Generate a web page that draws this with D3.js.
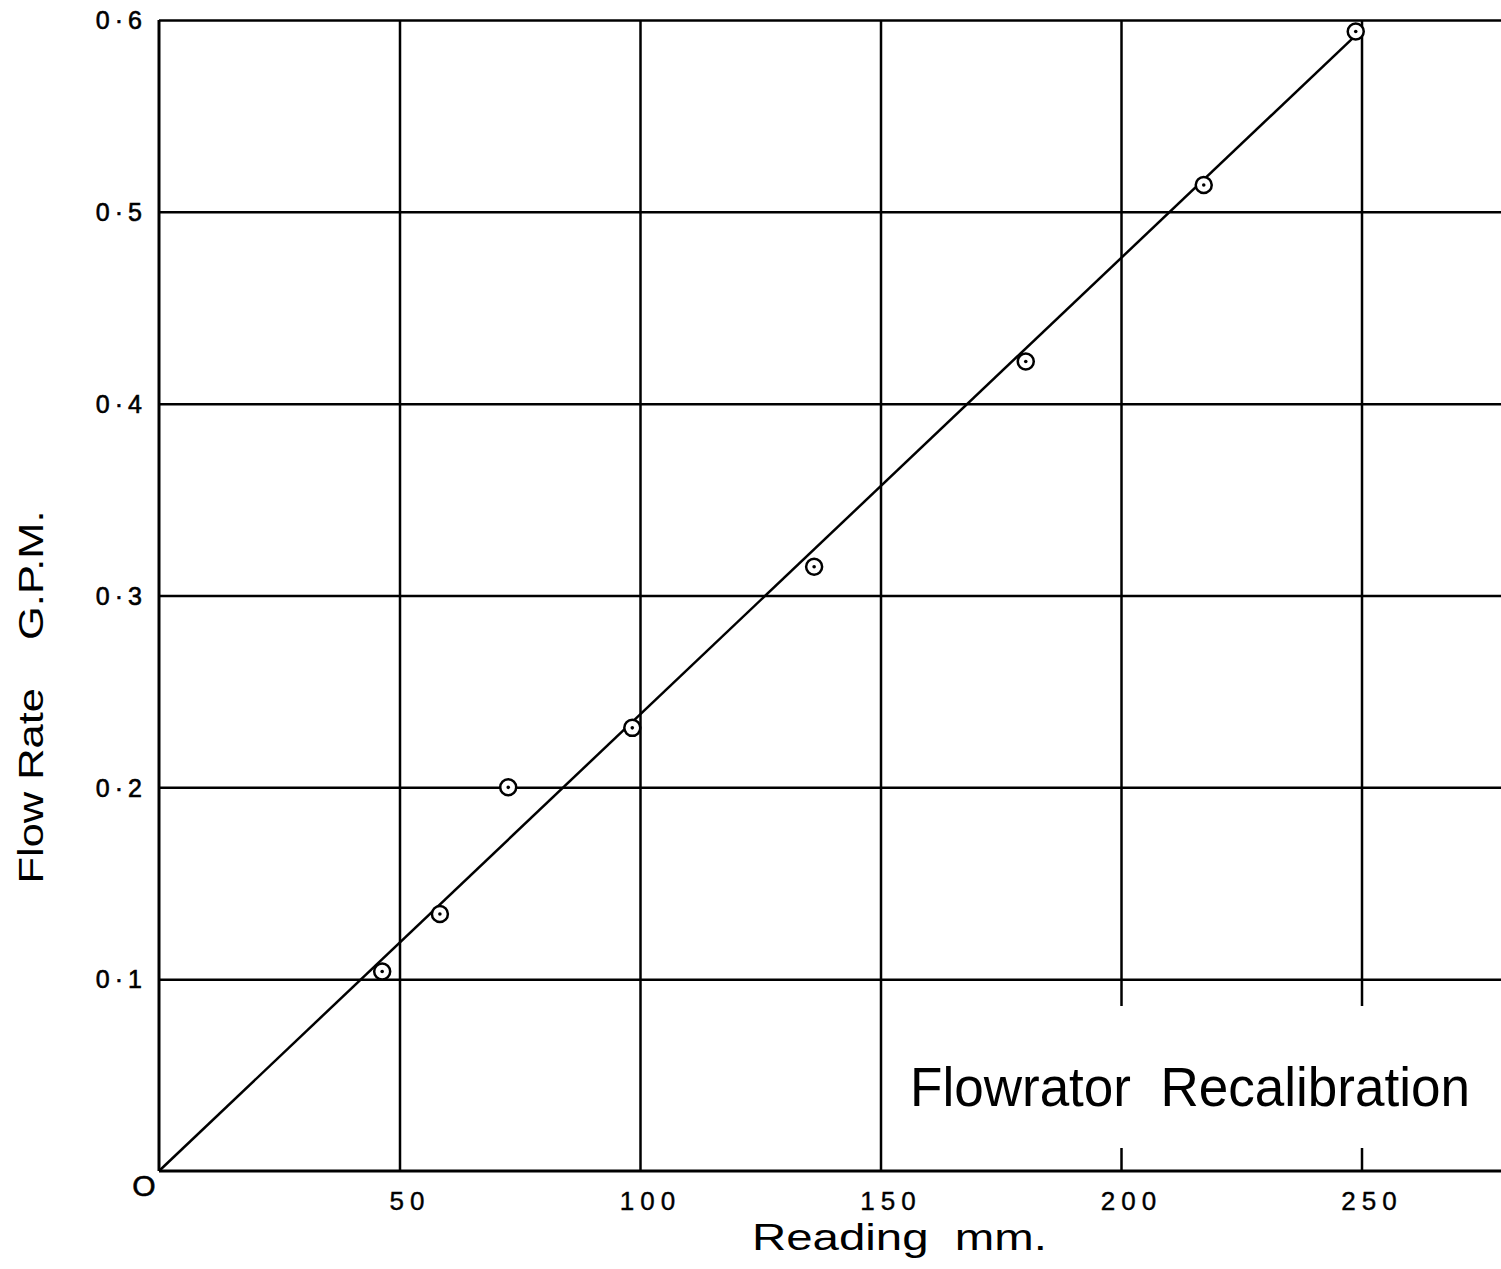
<!DOCTYPE html>
<html>
<head>
<meta charset="utf-8">
<script src="https://cdn.jsdelivr.net/npm/d3@7"></script>
<style>
  body { margin: 0; background: #fff; }
  text { font-family: "Liberation Sans", "DejaVu Sans", sans-serif; fill: #000; white-space: pre; }
</style>
</head>
<body>
<div id="chart"></div>
<script>
// readings (mm) and flow rates (G.P.M.)
var readings = [46.4, 58.4, 72.6, 98.4, 136.2, 180.2, 217.2, 248.8];
var flows    = [0.104, 0.134, 0.200, 0.231, 0.315, 0.422, 0.514, 0.594];

// hand drawn calibration line
var fitX = [0, 248.8];
var fitY = [0, 0.592];

var xTicks = [50, 100, 150, 200, 250];
var yTicks = [0.1, 0.2, 0.3, 0.4, 0.5, 0.6];

var W = 1501, H = 1269;
var plotLeft = 159, plotTop = 20, plotBottom = 1171;

var x = d3.scaleLinear().domain([0, 279]).range([plotLeft, W]);
var y = d3.scaleLinear().domain([0, 0.6]).range([plotBottom, plotTop]);

var svg = d3.select('#chart').append('svg')
	.attr('width', W)
	.attr('height', H)
	.style('background-color', '#fff');

// grid - horizontal
var yAxis = d3.axisLeft(y)
	.tickValues(yTicks)
	.tickSize(-(W - plotLeft))
	.tickPadding(12)
	.tickFormat(function(d) { return d3.format('.1f')(d).replace('.', '·'); });

var yG = svg.append('g')
	.attr('transform', 'translate(' + plotLeft + ',0)')
	.call(yAxis);
yG.select('.domain').remove();
yG.selectAll('line').attr('stroke', '#000').attr('stroke-width', 2.5);
yG.selectAll('text')
	.style('font-size', '25px')
	.style('letter-spacing', '5px')
	.style('stroke', '#000')
	.style('stroke-width', '0.6px')
	.attr('dy', '0.35em');

// grid - vertical
var xAxis = d3.axisBottom(x)
	.tickValues(xTicks)
	.tickSize(-(plotBottom - plotTop))
	.tickPadding(21)
	.tickFormat(d3.format('d'));

var xG = svg.append('g')
	.attr('transform', 'translate(0,' + plotBottom + ')')
	.call(xAxis);
xG.select('.domain').remove();
xG.selectAll('line').attr('stroke', '#000').attr('stroke-width', 2.5);
xG.selectAll('text')
	.style('font-size', '26px')
	.style('letter-spacing', '6px')
	.style('stroke', '#000')
	.style('stroke-width', '0.4px')
	.attr('dx', '10px');

// frame: left axis and x axis
svg.append('line')
	.attr('x1', x(0)).attr('x2', x(0))
	.attr('y1', y(0.6)).attr('y2', y(0))
	.attr('stroke', '#000').attr('stroke-width', 3);
svg.append('line')
	.attr('x1', x(0)).attr('x2', W)
	.attr('y1', y(0)).attr('y2', y(0))
	.attr('stroke', '#000').attr('stroke-width', 3);

// origin label
svg.append('text')
	.attr('x', x(0) - 15)
	.attr('y', y(0) + 25)
	.attr('text-anchor', 'middle')
	.style('font-size', '30px')
	.style('stroke', '#000')
	.style('stroke-width', '0.6px')
	.text('O');

// gap in the grid where the title is lettered
svg.append('rect')
	.attr('x', 890).attr('y', 1006)
	.attr('width', W - 890).attr('height', 142)
	.attr('fill', '#fff');

svg.append('text')
	.attr('x', 910)
	.attr('y', 1106)
	.attr('textLength', 560)
	.attr('lengthAdjust', 'spacingAndGlyphs')
	.style('font-size', '56px')
	.style('font-weight', '300')
	.text('Flowrator  Recalibration');

// fitted line
var fit = fitX.map(function(d, i) { return [d, fitY[i]]; });
svg.append('path')
	.datum(fit)
	.attr('fill', 'none')
	.attr('stroke', '#000')
	.attr('stroke-width', 2.5)
	.attr('d', d3.line()
		.x(function(d) { return x(d[0]); })
		.y(function(d) { return y(d[1]); }));

// points
var pts = readings.map(function(d, i) { return { r: d, f: flows[i] }; });
var g = svg.append('g');
g.selectAll('circle.ring')
	.data(pts)
	.enter().append('circle')
		.classed('ring', true)
		.attr('cx', function(d) { return x(d.r); })
		.attr('cy', function(d) { return y(d.f); })
		.attr('r', 8)
		.attr('fill', '#fff')
		.attr('stroke', '#000')
		.attr('stroke-width', 2.5);
g.selectAll('circle.dot')
	.data(pts)
	.enter().append('circle')
		.classed('dot', true)
		.attr('cx', function(d) { return x(d.r); })
		.attr('cy', function(d) { return y(d.f); })
		.attr('r', 1.8)
		.attr('fill', '#000');

// axis titles
svg.append('text')
	.attr('x', 752)
	.attr('y', 1250)
	.attr('textLength', 295)
	.attr('lengthAdjust', 'spacingAndGlyphs')
	.style('font-size', '37px')
	.text('Reading  mm.');

svg.append('text')
	.attr('transform', 'translate(43,697) rotate(-90)')
	.attr('text-anchor', 'middle')
	.attr('textLength', 373)
	.attr('lengthAdjust', 'spacingAndGlyphs')
	.style('font-size', '35px')
	.text('Flow Rate    G.P.M.');
</script>
</body>
</html>
